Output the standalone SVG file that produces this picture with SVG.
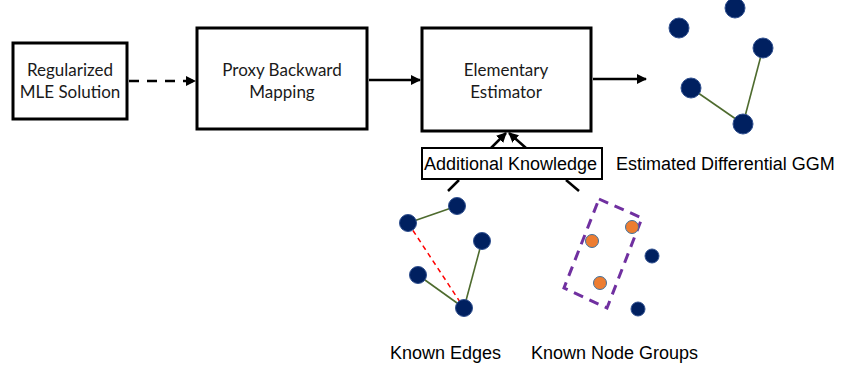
<svg xmlns="http://www.w3.org/2000/svg" width="843" height="372" viewBox="0 0 843 372">
  <style>
    .box { fill: #ffffff; stroke: #000000; stroke-width: 3; }
    .kbox { fill: #ffffff; stroke: #000000; stroke-width: 2; }
    .btxt { font-family: Lato, "Open Sans", sans-serif; font-size: 17px; fill: #1a1a1a; text-anchor: middle; }
    .atxt { font-family: "Liberation Sans", Arial, sans-serif; font-size: 18px; fill: #000000; }
    .conn { stroke: #000000; stroke-width: 2.5; fill: none; }
    .node { fill: #002060; stroke: #2f4f8f; stroke-width: 1; }
    .onode { fill: #ed7d31; stroke: #41719c; stroke-width: 1; }
    .gedge { stroke: #4e6b2e; stroke-width: 1.6; }
  </style>
  <defs>
    <marker id="arrow" viewBox="0 0 10 10" refX="9" refY="5" markerWidth="4" markerHeight="4" orient="auto" markerUnits="strokeWidth">
      <path d="M0,0 L10,5 L0,10 z" fill="#000000"/>
    </marker>
  </defs>

  <!-- connectors -->
  <g id="connectors">
    <line class="conn" x1="129" y1="81" x2="195" y2="81" stroke-dasharray="10,8" marker-end="url(#arrow)"/>
    <line class="conn" x1="369" y1="80" x2="420" y2="80" marker-end="url(#arrow)"/>
    <line class="conn" x1="593" y1="79" x2="646" y2="79" marker-end="url(#arrow)"/>
    <line class="conn" x1="491" y1="148" x2="506" y2="133" marker-end="url(#arrow)"/>
    <line class="conn" x1="526" y1="148" x2="509" y2="133" marker-end="url(#arrow)"/>
    <line class="conn" x1="448" y1="191" x2="459" y2="180"/>
    <line class="conn" x1="579" y1="191" x2="566" y2="180"/>
  </g>

  <g id="mle">
    <rect class="box" x="13" y="43" width="114" height="76"/>
    <text class="btxt" x="70" y="76">Regularized</text>
    <text class="btxt" x="70" y="98">MLE Solution</text>
  </g>

  <g id="proxy">
    <rect class="box" x="197" y="28" width="170" height="101"/>
    <text class="btxt" x="282" y="76">Proxy Backward</text>
    <text class="btxt" x="282" y="98">Mapping</text>
  </g>

  <g id="estimator">
    <rect class="box" x="422" y="28" width="169" height="103"/>
    <text class="btxt" x="506" y="76">Elementary</text>
    <text class="btxt" x="506" y="98">Estimator</text>
  </g>

  <g id="knowledge">
    <rect class="kbox" x="422" y="148" width="180" height="31"/>
    <text class="atxt" x="424" y="170">Additional Knowledge</text>
  </g>

  <!-- estimated differential graph -->
  <g id="estimated-ggm">
    <line class="gedge" x1="691" y1="88" x2="743" y2="124"/>
    <line class="gedge" x1="763" y1="48" x2="743" y2="124"/>
    <circle class="node" cx="679" cy="28" r="10"/>
    <circle class="node" cx="735" cy="8" r="10"/>
    <circle class="node" cx="763" cy="48" r="10"/>
    <circle class="node" cx="691" cy="88" r="10"/>
    <circle class="node" cx="743" cy="124" r="10"/>
    <text class="atxt" x="616" y="170">Estimated Differential GGM</text>
  </g>

  <!-- known edges graph -->
  <g id="known-edges">
    <line class="gedge" x1="408" y1="223" x2="457" y2="206"/>
    <line class="gedge" x1="418" y1="275" x2="464" y2="308"/>
    <line class="gedge" x1="482" y1="241" x2="464" y2="308"/>
    <line x1="408" y1="223" x2="464" y2="308" stroke="#ff0000" stroke-width="1.5" stroke-dasharray="5,4"/>
    <circle class="node" cx="408" cy="223" r="8.5"/>
    <circle class="node" cx="457" cy="206" r="8.5"/>
    <circle class="node" cx="482" cy="241" r="8.5"/>
    <circle class="node" cx="418" cy="275" r="8.5"/>
    <circle class="node" cx="464" cy="308" r="8.5"/>
    <text class="atxt" x="390" y="359">Known Edges</text>
  </g>

  <!-- known node groups -->
  <g id="known-node-groups">
    <polygon points="599,199 642,218 607,308 564,288" fill="none" stroke="#7030a0" stroke-width="3" stroke-dasharray="10,7"/>
    <circle class="onode" cx="592" cy="241" r="6.5"/>
    <circle class="onode" cx="632" cy="227" r="6.5"/>
    <circle class="onode" cx="600" cy="283" r="6.5"/>
    <circle class="node" cx="652" cy="256" r="7"/>
    <circle class="node" cx="638" cy="309" r="7"/>
    <text class="atxt" x="531" y="359">Known Node Groups</text>
  </g>
</svg>
